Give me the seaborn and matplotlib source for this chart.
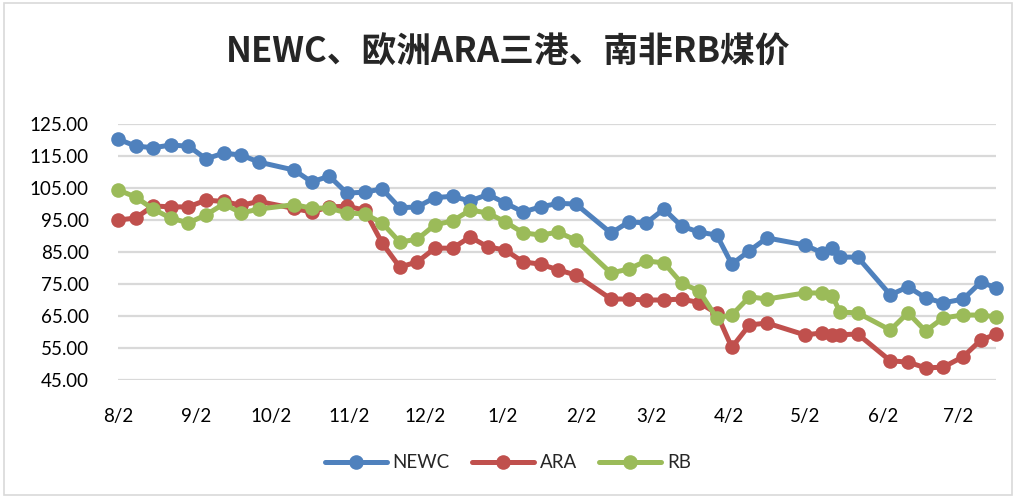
import pandas as pd
import matplotlib
matplotlib.use("Agg")
import matplotlib.pyplot as plt
import seaborn as sns

# weekly price dates, Aug 2018 - Jul 2019
dates = ['2018-08-02', '2018-08-09', '2018-08-16', '2018-08-23', '2018-08-30',
         '2018-09-06', '2018-09-13', '2018-09-20', '2018-09-27',
         '2018-10-11', '2018-10-18', '2018-10-25', '2018-11-01', '2018-11-08',
         '2018-11-15', '2018-11-22', '2018-11-29', '2018-12-06', '2018-12-13',
         '2018-12-20', '2018-12-27', '2019-01-03', '2019-01-10', '2019-01-17',
         '2019-01-24', '2019-01-31',
         '2019-02-14', '2019-02-21', '2019-02-28', '2019-03-07', '2019-03-14',
         '2019-03-21', '2019-03-28',
         '2019-04-03', '2019-04-10', '2019-04-17',
         '2019-05-02', '2019-05-09', '2019-05-13', '2019-05-16', '2019-05-23',
         '2019-06-05', '2019-06-12', '2019-06-19', '2019-06-26', '2019-07-04',
         '2019-07-11', '2019-07-17']

newc = [120.3, 118.1, 117.6, 118.4, 118.1, 114.1, 115.9, 115.3, 113.1,
        110.6, 106.9, 108.7, 103.4, 103.7, 104.7, 98.8, 99.1, 102.0, 102.4,
        100.9, 103.0, 100.3, 97.5, 99.1, 100.2, 100.0,
        90.9, 94.4, 94.1, 98.4, 93.1, 91.2, 90.3,
        81.2, 85.4, 89.4,
        87.2, 84.7, 86.4, 83.4, 83.4,
        71.6, 74.1, 70.7, 69.1, 70.3, 75.6, 73.8]

ara = [95.0, 95.6, 99.4, 99.1, 99.1, 101.2, 100.8, 99.6, 100.8,
       98.6, 97.5, 99.1, 99.3, 98.1, 87.8, 80.3, 81.9, 86.2, 86.2,
       89.7, 86.6, 85.6, 81.9, 81.2, 79.4, 77.8,
       70.3, 70.3, 70.0, 70.0, 70.3, 69.2, 65.8,
       55.2, 62.2, 62.8,
       59.1, 59.7, 59.1, 59.1, 59.4,
       51.0, 50.6, 48.8, 49.0, 52.3, 57.5, 59.3]

rb = [104.4, 102.2, 98.4, 95.6, 94.1, 96.6, 100.0, 97.2, 98.4,
      99.8, 98.7, 98.7, 97.2, 96.9, 94.1, 88.1, 89.0, 93.5, 94.7,
      98.1, 97.2, 94.4, 91.0, 90.3, 91.2, 88.7,
      78.4, 79.7, 82.2, 81.6, 75.3, 72.8, 64.4,
      65.3, 71.0, 70.3,
      72.2, 72.2, 71.2, 66.2, 66.0,
      60.6, 66.0, 60.3, 64.4, 65.3, 65.3, 64.7]

series_names = ['NEWC', 'ARA', 'RB']
month_ticks = ['2018-08-02', '2018-09-02', '2018-10-02', '2018-11-02', '2018-12-02',
               '2019-01-02', '2019-02-02', '2019-03-02', '2019-04-02', '2019-05-02',
               '2019-06-02', '2019-07-02']
y_ticks = [45, 55, 65, 75, 85, 95, 105, 115, 125]

df = pd.DataFrame({'date': pd.to_datetime(dates), 'NEWC': newc, 'ARA': ara, 'RB': rb})
df_long = df.melt(id_vars='date', value_vars=series_names, var_name='series', value_name='price')

sns.set_style("white")
plt.rcParams['font.family'] = ['Lato', 'Noto Sans CJK SC', 'DejaVu Sans']

palette = {'NEWC': '#4F81BD', 'ARA': '#C0504D', 'RB': '#9BBB59'}

fig = plt.figure(figsize=(10.16, 5.0), dpi=100)
ax = fig.add_axes([0.1161, 0.24, 0.8642, 0.512])

sns.lineplot(data=df_long, x='date', y='price', hue='series', hue_order=series_names,
             palette=palette, marker='o', markersize=10.5, markeredgewidth=0,
             linewidth=3.6, ax=ax)
for line in ax.get_lines():
    line.set_clip_on(False)

ax.set_xlim(df['date'].min(), df['date'].max())
ax.set_ylim(45, 125)
ax.set_yticks(y_ticks)
ax.set_yticklabels([f'{v:.2f}' for v in y_ticks])
tick_dates = pd.to_datetime(month_ticks)
ax.set_xticks(tick_dates)
ax.set_xticklabels([f'{d.month}/{d.day}' for d in tick_dates])
ax.grid(axis='y', color='#D9D9D9', linewidth=1.6)
ax.set_axisbelow(True)
for s in ax.spines.values():
    s.set_visible(False)
ax.tick_params(axis='both', length=0, labelsize=13.5, colors='#000000')
ax.tick_params(axis='x', pad=20)
ax.tick_params(axis='y', pad=21)
ax.set_xlabel('')
ax.set_ylabel('')

leg = ax.legend(loc='center', bbox_to_anchor=(0.5, 0.074), bbox_transform=fig.transFigure,
                ncol=3, frameon=False, fontsize=13.5, handlelength=3.3,
                columnspacing=1.2, handletextpad=0.3)

fig.text(0.5, 0.896, 'NEWC、欧洲ARA三港、南非RB煤价', ha='center', va='center',
         fontsize=25, fontweight='bold', family=['Noto Sans CJK SC', 'DejaVu Sans'])

# chart border
fig.patches.append(plt.Rectangle((0.004, 0.01), 0.992, 0.985, transform=fig.transFigure,
                                 fill=False, edgecolor='#D9D9D9', linewidth=1.2))

fig.savefig('out.png', dpi=100)
